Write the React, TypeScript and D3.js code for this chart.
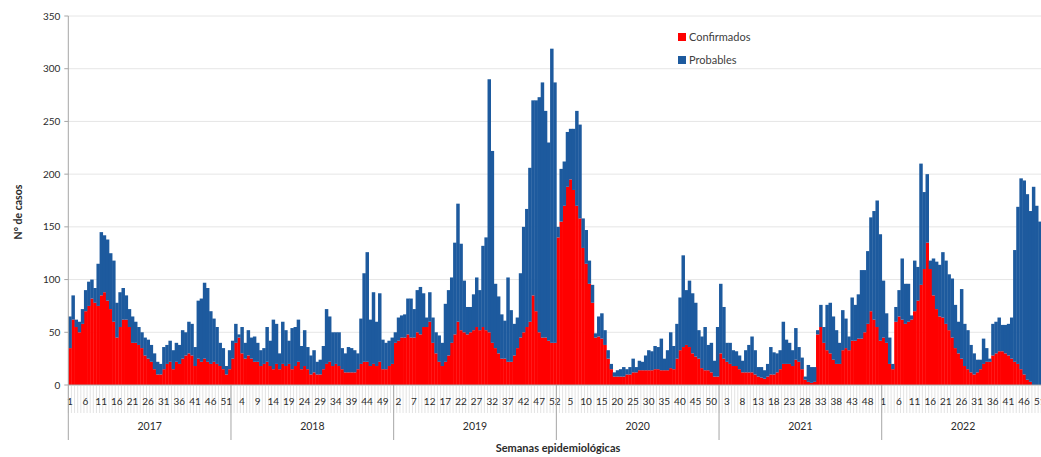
import React from "react";
import * as d3 from "d3";

const years = ["2017", "2018", "2019", "2020", "2021", "2022"];
const weeks = d3.range(1, 53);
const yTicks = [0, 50, 100, 150, 200, 250, 300, 350];
const seriesNames = ["Confirmados", "Probables"];
const seriesColors = ["#ff0000", "#1d5a9e"];

const conf2017 = [35,62,55,50,58,70,75,82,78,75,85,88,80,72,60,45,55,62,62,55,40,40,38,35,28,25,22,15,10,10,15,20,22,15,22,20,25,28,30,28,18,25,22,25,22,20,22,20,18,15,10,15];
const prob2017 = [30,23,7,10,14,20,23,18,14,40,60,54,58,53,58,33,33,30,23,17,25,20,17,15,17,18,16,15,12,10,21,18,20,18,18,18,27,22,30,30,18,55,60,72,70,50,41,35,22,20,8,18];
const conf2018 = [25,40,45,30,25,28,25,22,22,18,20,22,18,15,20,15,20,18,20,15,18,22,15,18,15,10,12,10,10,15,20,22,18,20,18,15,12,12,12,12,15,20,22,22,18,20,18,22,15,15,18,20];
const prob2018 = [17,18,3,25,15,24,20,24,18,15,15,33,24,47,38,15,40,34,22,39,37,40,22,34,21,18,21,12,14,22,52,43,32,30,32,20,18,24,23,21,15,43,84,104,44,68,42,65,28,25,24,25];
const conf2019 = [40,42,45,45,48,45,45,50,48,55,55,60,40,30,22,18,22,28,40,48,60,52,50,48,50,52,55,52,55,52,50,40,35,30,25,25,22,22,28,35,45,50,55,60,85,70,50,45,45,42,40,40];
const prob2019 = [10,22,21,22,34,37,27,40,45,32,9,28,24,20,25,22,55,62,62,87,112,82,49,26,24,34,47,38,77,88,240,182,61,54,42,36,80,49,30,29,61,100,112,146,185,200,223,242,215,188,279,247];
const conf2020 = [140,155,170,188,195,185,170,158,130,115,96,78,45,46,44,38,25,15,8,8,8,8,10,10,12,12,14,14,14,14,14,15,15,14,14,14,16,15,25,33,36,38,36,30,27,25,16,14,14,12,8,8];
const prob2020 = [10,50,42,52,48,58,90,89,28,32,22,17,4,19,24,14,8,5,4,6,7,9,5,7,13,5,9,8,14,19,18,22,21,30,11,19,34,22,33,50,87,52,63,57,51,27,30,41,24,28,15,47];
const conf2021 = [30,25,22,20,18,18,15,12,12,12,12,10,8,7,6,8,10,10,12,15,20,20,20,18,24,22,15,5,3,2,3,48,55,40,33,30,24,20,20,33,35,33,42,42,44,44,50,58,70,62,55,42];
const prob2021 = [66,49,18,20,15,14,13,11,21,26,34,23,9,10,8,12,26,21,18,18,40,23,20,15,30,14,11,3,16,15,14,4,21,15,43,48,41,32,20,38,28,13,41,34,42,65,59,69,89,103,120,101];
const conf2022 = [45,40,20,15,60,65,62,58,60,62,70,80,95,110,135,110,85,72,65,64,58,52,45,35,30,25,18,15,12,10,12,15,20,22,22,28,30,32,32,30,28,25,22,20,15,10,5,3,0,0,0,0];
const prob2022 = [54,28,25,5,14,25,58,38,36,4,48,32,115,73,65,8,35,45,49,62,60,53,56,41,30,66,40,37,26,20,12,9,24,13,3,30,30,32,25,27,30,39,106,149,181,184,176,162,188,170,155,150];

const confirmados = [conf2017, conf2018, conf2019, conf2020, conf2021, conf2022];
const probables = [prob2017, prob2018, prob2019, prob2020, prob2021, prob2022];

const FONT = "Lato, 'Open Sans', 'DejaVu Sans', sans-serif";
const TXT = "#2b2b2b";

export default function App() {
  const cats = years.flatMap((yr) => weeks.map((w) => `${yr}-${w}`));
  const conf = confirmados.flat();
  const prob = probables.flat();
  const rows = cats.map((c, i) => ({ cat: c, Confirmados: conf[i], Probables: prob[i] }));
  const stacked = d3.stack<any>().keys(seriesNames)(rows);

  const x = d3.scaleBand<string>().domain(cats).range([68.3, 1044.4]).paddingInner(0).paddingOuter(0);
  const y = d3.scaleLinear().domain([0, 350]).range([385, 16]);
  const bw = x.bandwidth();
  const x0 = 68.3;
  const yearStart = (k: number) => x(`${years[k]}-1`) as number;
  const yearEnd = (k: number) => (x(`${years[k]}-52`) as number) + bw;

  return (
    <div style={{ position: "absolute", left: 0, top: 0, width: 1041, height: 457, overflow: "hidden", background: "#fff" }}>
      <svg width={1041} height={457} style={{ display: "block", fontFamily: FONT }}>
        {/* gridlines */}
        {yTicks.filter((t) => t > 0).map((t) => (
          <line key={"g" + t} x1={x0} x2={1041} y1={y(t)} y2={y(t)} stroke="#e6e6e6" strokeWidth={1} />
        ))}
        {/* bars */}
        {stacked.map((layer, li) => (
          <g key={layer.key} fill={seriesColors[li]}>
            {layer.map((d: any, i: number) => (
              <rect
                key={i}
                x={x(d.data.cat) as number}
                width={bw + 0.35}
                y={y(d[1])}
                height={Math.max(0, y(d[0]) - y(d[1]))}
              />
            ))}
          </g>
        ))}
        {/* y axis */}
        <line x1={x0} x2={x0} y1={16} y2={385} stroke="#a6a6a6" />
        {yTicks.map((t) => (
          <g key={"t" + t}>
            <line x1={x0 - 4} x2={x0} y1={y(t)} y2={y(t)} stroke="#a6a6a6" />
            <text x={x0 - 8} y={y(t)} dy="0.35em" textAnchor="end" fontSize={10} fill={TXT}>
              {t}
            </text>
          </g>
        ))}
        <text transform="translate(22,212) rotate(-90)" textAnchor="middle" fontSize={10.5} fontWeight="bold" fill={TXT}>
          N° de casos
        </text>
        {/* x axis */}
        <line x1={x0} x2={1041} y1={385} y2={385} stroke="#a6a6a6" />
        {cats.map((c) => (
          <line key={"ct" + c} x1={x(c) as number} x2={x(c) as number} y1={385} y2={413} stroke="#d0d0d0" strokeWidth={0.6} />
        ))}
        {cats.map((c, i) =>
          i % 5 === 0 ? (
            <text key={"cl" + c} x={(x(c) as number) + bw / 2} y={405} textAnchor="middle" fontSize={10} fill={TXT}>
              {c.split("-")[1]}
            </text>
          ) : null
        )}
        {years.map((yr, k) => (
          <g key={"y" + yr}>
            <line x1={yearStart(k)} x2={yearStart(k)} y1={385} y2={440} stroke="#a6a6a6" />
            <text x={(yearStart(k) + yearEnd(k)) / 2} y={430} textAnchor="middle" fontSize={10.5} fill={TXT}>
              {yr}
            </text>
          </g>
        ))}
        <text x={558} y={452} textAnchor="middle" fontSize={11} fontWeight="bold" fill={TXT}>
          Semanas epidemiológicas
        </text>
        {/* legend */}
        {seriesNames.map((s, i) => (
          <g key={"lg" + s} transform={`translate(678,${33 + i * 23})`}>
            <rect x={0} y={0} width={8} height={8} fill={seriesColors[i]} />
            <text x={11} y={4} dy="0.35em" fontSize={11} fill="#404040">
              {s}
            </text>
          </g>
        ))}
      </svg>
    </div>
  );
}
